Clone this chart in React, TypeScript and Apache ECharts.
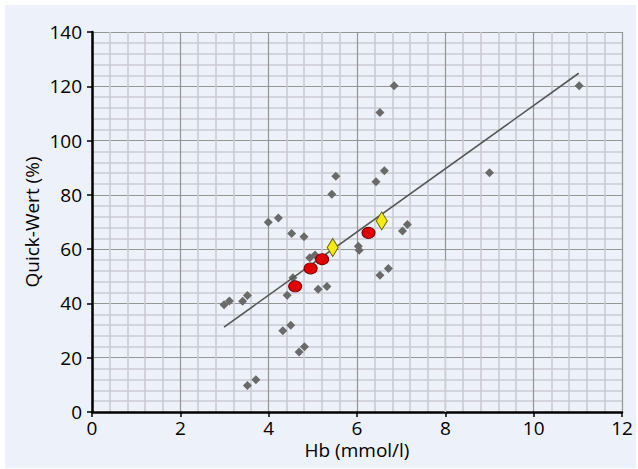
import React, { useEffect, useRef } from "react";
import * as echarts from "echarts";

// Gray diamonds: individual patients [Hb (mmol/l), Quick (%)]
const grayX = [2.99, 3.11, 3.41, 3.52, 3.52, 3.71, 4.32, 4.5, 4.69, 4.81, 4.42, 4.55, 5.12, 5.32, 4.52, 4.8, 3.99, 4.22, 4.93, 5.05, 5.43, 5.52, 6.43, 6.62, 6.52, 6.84, 6.03, 6.05, 6.52, 6.71, 7.03, 7.14, 9.0, 11.03];
const grayY = [39.5, 40.9, 40.8, 42.9, 9.8, 11.9, 29.9, 32.0, 22.1, 24.0, 43.0, 49.5, 45.2, 46.2, 65.8, 64.6, 69.9, 71.5, 56.8, 57.8, 80.2, 86.9, 84.8, 88.9, 110.3, 120.2, 61.1, 59.6, 50.4, 52.9, 66.7, 69.1, 88.1, 120.2];

// Red circles
const redX = [4.6, 4.95, 5.21, 6.26];
const redY = [46.3, 52.9, 56.3, 66.0];

// Yellow diamonds
const yellowX = [5.45, 6.56];
const yellowY = [60.6, 70.4];

// Regression line endpoints
const lineX = [2.99, 11.02];
const lineY = [31.3, 124.8];

// Graph-paper artifact: lower part of the x=8 grid line is light
const lightSegX = [8, 8];
const lightSegY = [0, 56];

const xTicks = { min: 0, max: 12, interval: 2 };
const yTicks = { min: 0, max: 140, interval: 20 };

const zip = (xs: number[], ys: number[]) => xs.map((x, i) => [x, ys[i]]);

const FONT = "Open Sans";
const MINOR = "#cbcbd2";
const MAJOR = "#959595";

export default function App() {
  const ref = useRef<HTMLDivElement>(null);
  useEffect(() => {
    document.body.style.margin = "0";
    const chart = echarts.init(ref.current!, null, { renderer: "svg" });
    chart.setOption({
      animation: false,
      backgroundColor: "transparent",
      grid: { left: 92, right: 16, top: 32, bottom: 57, containLabel: false },
      xAxis: {
        type: "value",
        ...xTicks,
        name: "Hb (mmol/l)",
        nameLocation: "middle",
        nameGap: 30,
        nameMoveOverlap: false,
        nameTextStyle: { fontFamily: FONT, fontSize: 19, lineHeight: 15, color: "#000" },
        axisLine: { show: true, onZero: false, lineStyle: { color: "#000", width: 2.5 } },
        axisTick: { show: true, length: 5, lineStyle: { color: "#000", width: 1.5 } },
        axisLabel: { fontFamily: FONT, fontSize: 19, lineHeight: 15, color: "#000", margin: 8 },
        splitLine: { show: true, lineStyle: { color: MAJOR, width: 1.2 } },
        minorTick: { show: false, splitNumber: 5 },
        minorSplitLine: { show: true, lineStyle: { color: MINOR, width: 1.6 } },
      },
      yAxis: {
        type: "value",
        ...yTicks,
        name: "Quick-Wert (%)",
        nameLocation: "middle",
        nameGap: 51,
        nameMoveOverlap: false,
        nameTextStyle: { fontFamily: FONT, fontSize: 19, color: "#000" },
        axisLine: { show: true, onZero: false, lineStyle: { color: "#000", width: 2.5 } },
        axisTick: { show: true, length: 5, lineStyle: { color: "#000", width: 1.5 } },
        axisLabel: { fontFamily: FONT, fontSize: 19, color: "#000", margin: 10 },
        splitLine: { show: true, lineStyle: { color: MAJOR, width: 1.2 } },
        minorTick: { show: false, splitNumber: 5 },
        minorSplitLine: { show: true, lineStyle: { color: MINOR, width: 1.6 } },
      },
      series: [
        {
          type: "line",
          data: zip(lightSegX, lightSegY),
          showSymbol: false,
          symbol: "none",
          lineStyle: { color: "#cfcfd6", width: 1.6 },
          z: 0,
          silent: true,
        },
        {
          type: "scatter",
          data: zip(grayX, grayY),
          symbol: "diamond",
          symbolSize: [9, 9],
          itemStyle: { color: "#6a6a6a", opacity: 1 },
          z: 2,
        },
        {
          type: "line",
          data: zip(lineX, lineY),
          showSymbol: false,
          symbol: "none",
          lineStyle: { color: "#555", width: 1.6 },
          z: 3,
        },
        {
          type: "scatter",
          data: zip(redX, redY),
          symbol: "circle",
          symbolSize: [13, 11],
          itemStyle: { color: "#e00000", borderColor: "#7a0000", borderWidth: 1, opacity: 1 },
          z: 4,
        },
        {
          type: "scatter",
          data: zip(yellowX, yellowY),
          symbol: "diamond",
          symbolSize: [11, 18],
          itemStyle: { color: "#f6ea12", borderColor: "#6e6400", borderWidth: 1, opacity: 1 },
          z: 5,
        },
      ],
    });
    return () => chart.dispose();
  }, []);
  return (
    <div style={{ position: "relative", width: 638, height: 469, background: "#ffffff" }}>
      <div style={{ position: "absolute", left: 5, top: 5, width: 631, height: 463, background: "#edf1f9" }} />
      <div ref={ref} style={{ position: "absolute", left: 0, top: 0, width: 638, height: 469 }} />
    </div>
  );
}
